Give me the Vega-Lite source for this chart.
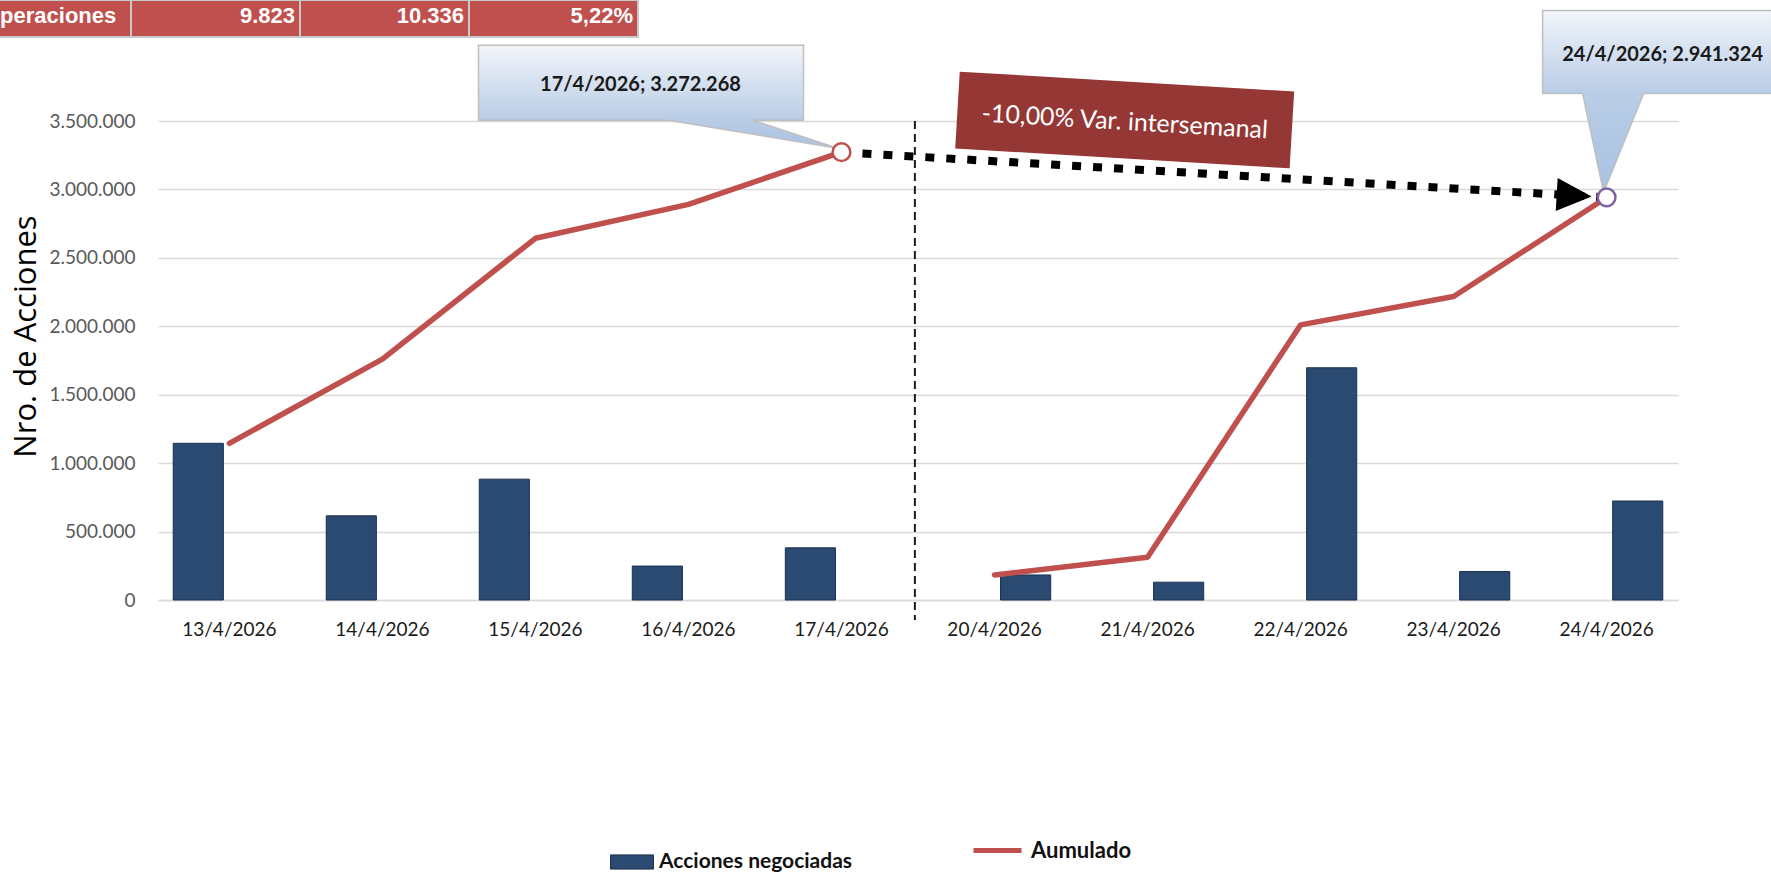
{
  "$schema": "https://vega.github.io/schema/vega-lite/v6.json",
  "width": 1520,
  "height": 479,
  "autosize": {"type": "none"},
  "padding": {"left": 158, "top": 121, "right": 93, "bottom": 273},
  "background": "#ffffff",
  "config": {"view": {"stroke": null}},
  "datasets": {
    "acciones": [
      {"fecha": "13/4/2026", "semana": "S1", "acciones": 1145000, "acumulado": 1145000},
      {"fecha": "14/4/2026", "semana": "S1", "acciones": 615000, "acumulado": 1760000},
      {"fecha": "15/4/2026", "semana": "S1", "acciones": 883000, "acumulado": 2643000},
      {"fecha": "16/4/2026", "semana": "S1", "acciones": 248000, "acumulado": 2891000},
      {"fecha": "17/4/2026", "semana": "S1", "acciones": 381268, "acumulado": 3272268},
      {"fecha": "20/4/2026", "semana": "S2", "acciones": 183000, "acumulado": 183000},
      {"fecha": "21/4/2026", "semana": "S2", "acciones": 130000, "acumulado": 313000},
      {"fecha": "22/4/2026", "semana": "S2", "acciones": 1697000, "acumulado": 2010000},
      {"fecha": "23/4/2026", "semana": "S2", "acciones": 208000, "acumulado": 2218000},
      {"fecha": "24/4/2026", "semana": "S2", "acciones": 723324, "acumulado": 2941324}
    ],
    "puntos": [
      {"fecha": "17/4/2026", "valor": 3272268, "etiqueta": "17/4/2026; 3.272.268"},
      {"fecha": "24/4/2026", "valor": 2941324, "etiqueta": "24/4/2026; 2.941.324"}
    ],
    "variacion": [
      {"desde": "17/4/2026", "valor_desde": 3272268, "hasta": "24/4/2026", "valor_hasta": 2941324, "texto": "-10,00% Var. intersemanal"}
    ],
    "tabla": [
      {"fila": "Operaciones", "celda": "Operaciones"},
      {"fila": "Operaciones", "celda": "9.823"},
      {"fila": "Operaciones", "celda": "10.336"},
      {"fila": "Operaciones", "celda": "5,22%"}
    ]
  },
  "layer": [
    {
      "layer": [
        {
          "data": {"name": "acciones"},
          "mark": {"type": "bar", "stroke": "#1b3150", "strokeWidth": 1},
          "encoding": {
            "x": {
              "field": "fecha", "type": "nominal", "title": null,
              "scale": {"type": "band", "paddingInner": 0.187, "paddingOuter": 0.06},
              "axis": {"labelAngle": 0, "ticks": false, "domain": true, "domainColor": "#d9d9d9", "domainWidth": 1.5, "labelPadding": 20, "labelFont": "Lato", "labelFontSize": 19, "labelColor": "#1a1a1a", "grid": false}
            },
            "xOffset": {"field": "semana", "type": "nominal", "scale": {"paddingInner": 0.194, "paddingOuter": 0.097}},
            "y": {
              "field": "acciones", "type": "quantitative", "title": "Nro. de Acciones",
              "scale": {"domain": [0, 3500000], "nice": false},
              "axis": {"values": [0, 500000, 1000000, 1500000, 2000000, 2500000, 3000000, 3500000], "labelExpr": "replace(format(datum.value, ','), /,/g, '.')", "grid": true, "gridColor": "#d9d9d9", "gridWidth": 1.5, "domain": false, "ticks": false, "labelPadding": 23, "labelFont": "Lato", "labelFontSize": 19, "labelColor": "#595959", "titleFont": "Open Sans", "titleFontSize": 31, "titleFontWeight": "normal", "titleColor": "#000000", "titleX": -123, "titleY": 215, "titleBaseline": "alphabetic", "titleAngle": 270, "titleAlign": "center"}
            },
            "fill": {
              "datum": "Acciones negociadas", "type": "nominal",
              "scale": {"range": ["#2b4a71"]},
              "legend": {"orient": "none", "legendX": 452, "legendY": 719, "title": null, "padding": 0, "labelLimit": 0, "symbolType": "M-1,-0.33L1,-0.33L1,0.33L-1,0.33Z", "symbolSize": 1849, "symbolStrokeColor": "#1b3150", "symbolStrokeWidth": 1, "labelFont": "Lato", "labelFontSize": 21, "labelFontWeight": "bold", "labelColor": "#111111", "labelOffset": 5}
            }
          }
        },
        {
          "data": {"values": [{}]},
          "mark": {"type": "rule", "stroke": "#1a1a1a", "strokeWidth": 2, "strokeDash": [8, 5]},
          "encoding": {
            "x": {"datum": "17/4/2026", "type": "nominal", "bandPosition": 1.09, "title": null},
            "y": {"datum": 3500000, "type": "quantitative", "title": "Nro. de Acciones"},
            "y2": {"datum": -146000}
          }
        },
        {
          "data": {"name": "acciones"},
          "mark": {"type": "line", "strokeWidth": 5.5, "strokeJoin": "round", "strokeCap": "round"},
          "encoding": {
            "x": {"field": "fecha", "type": "nominal", "title": null},
            "y": {"field": "acumulado", "type": "quantitative", "title": "Nro. de Acciones"},
            "detail": {"field": "semana"},
            "stroke": {
              "datum": "Aumulado", "type": "nominal",
              "scale": {"range": ["#c0504d"]},
              "legend": {"orient": "none", "legendX": 813, "legendY": 703, "title": null, "padding": 0, "labelLimit": 0, "symbolType": "stroke", "symbolSize": 2304, "symbolStrokeWidth": 5, "labelFont": "Lato", "labelFontSize": 22, "labelFontWeight": "bold", "labelColor": "#111111", "labelOffset": 7}
            }
          }
        },
        {
          "data": {"name": "variacion"},
          "mark": {"type": "rule", "stroke": "#000000", "strokeWidth": 8, "strokeDash": [9, 12], "strokeCap": "butt"},
          "encoding": {
            "x": {"field": "desde", "type": "nominal", "title": null},
            "x2": {"field": "hasta"},
            "y": {"field": "valor_desde", "type": "quantitative", "title": "Nro. de Acciones"},
            "y2": {"field": "valor_hasta"}
          }
        },
        {
          "data": {"name": "variacion"},
          "mark": {"type": "point", "shape": "M-0.15,0L-0.50,-0.165L-0.50,0.165Z", "size": 40000, "angle": 3.4, "filled": true, "fill": "#000000", "strokeWidth": 0, "opacity": 1},
          "encoding": {
            "x": {"field": "hasta", "type": "nominal", "title": null},
            "y": {"field": "valor_hasta", "type": "quantitative", "title": "Nro. de Acciones"}
          }
        },
        {
          "data": {"name": "puntos"},
          "transform": [{"filter": "datum.fecha === '17/4/2026'"}],
          "mark": {"type": "point", "shape": "M-3.63,-1.07L-0.38,-1.07L-0.38,-0.32L-0.89,-0.32L-0.04,-0.04L-1.73,-0.32L-3.63,-0.32Z", "size": 40000, "filled": true, "opacity": 1, "stroke": "#bfbfbf", "strokeWidth": 1.5,
            "fill": {"gradient": "linear", "x1": 0, "y1": 0, "x2": 0, "y2": 1, "stops": [{"offset": 0, "color": "#f2f5fa"}, {"offset": 0.72, "color": "#b9cde6"}, {"offset": 1, "color": "#a9c2e2"}]}},
          "encoding": {
            "x": {"field": "fecha", "type": "nominal", "title": null},
            "y": {"field": "valor", "type": "quantitative", "title": "Nro. de Acciones"}
          }
        },
        {
          "data": {"name": "puntos"},
          "transform": [{"filter": "datum.fecha === '24/4/2026'"}],
          "mark": {"type": "point", "shape": "M-0.64,-1.87L1.84,-1.87L1.84,-1.04L0.37,-1.04L-0.03,-0.05L-0.24,-1.04L-0.64,-1.04Z", "size": 40000, "filled": true, "opacity": 1, "stroke": "#bfbfbf", "strokeWidth": 1.5,
            "fill": {"gradient": "linear", "x1": 0, "y1": 0, "x2": 0, "y2": 1, "stops": [{"offset": 0, "color": "#f2f5fa"}, {"offset": 0.45, "color": "#b9cde6"}, {"offset": 1, "color": "#a9c2e2"}]}},
          "encoding": {
            "x": {"field": "fecha", "type": "nominal", "title": null},
            "y": {"field": "valor", "type": "quantitative", "title": "Nro. de Acciones"}
          }
        },
        {
          "data": {"name": "puntos"},
          "transform": [{"filter": "datum.fecha === '17/4/2026'"}],
          "mark": {"type": "text", "font": "Lato", "fontSize": 20, "fontWeight": "bold", "color": "#1a1a1a", "dx": -201, "dy": -67, "align": "center", "baseline": "middle"},
          "encoding": {
            "x": {"field": "fecha", "type": "nominal", "title": null},
            "y": {"field": "valor", "type": "quantitative", "title": "Nro. de Acciones"},
            "text": {"field": "etiqueta"}
          }
        },
        {
          "data": {"name": "puntos"},
          "transform": [{"filter": "datum.fecha === '24/4/2026'"}],
          "mark": {"type": "text", "font": "Lato", "fontSize": 20, "fontWeight": "bold", "color": "#1a1a1a", "dx": 56, "dy": -142, "align": "center", "baseline": "middle"},
          "encoding": {
            "x": {"field": "fecha", "type": "nominal", "title": null},
            "y": {"field": "valor", "type": "quantitative", "title": "Nro. de Acciones"},
            "text": {"field": "etiqueta"}
          }
        },
        {
          "data": {"name": "puntos"},
          "mark": {"type": "point", "shape": "circle", "size": 314, "filled": true, "fill": "#ffffff", "strokeWidth": 2.5, "opacity": 1},
          "encoding": {
            "x": {"field": "fecha", "type": "nominal", "title": null},
            "y": {"field": "valor", "type": "quantitative", "title": "Nro. de Acciones"},
            "stroke": {"condition": {"test": "datum.fecha === '17/4/2026'", "value": "#c0504d"}, "value": "#7f63a1"}
          }
        },
        {
          "data": {"name": "variacion"},
          "mark": {"type": "point", "shape": "M1.133,-0.874L4.483,-0.874L4.483,-0.104L1.133,-0.104Z", "size": 40000, "angle": 3.4, "filled": true, "fill": "#953735", "strokeWidth": 0, "opacity": 1},
          "encoding": {
            "x": {"field": "desde", "type": "nominal", "title": null},
            "y": {"field": "valor_desde", "type": "quantitative", "title": "Nro. de Acciones"}
          }
        },
        {
          "data": {"name": "variacion"},
          "mark": {"type": "text", "angle": 3.4, "dx": 281, "dy": -47, "font": "Lato", "fontSize": 25, "color": "#ffffff", "align": "center", "baseline": "middle"},
          "encoding": {
            "x": {"field": "desde", "type": "nominal", "title": null},
            "y": {"field": "valor_desde", "type": "quantitative", "title": "Nro. de Acciones"},
            "text": {"field": "texto"}
          }
        }
      ]
    },
    {
      "data": {"name": "tabla"},
      "encoding": {
        "x": {"field": "celda", "type": "nominal", "sort": null, "axis": null, "scale": {"type": "band", "domain": ["Operaciones", "9.823", "10.336", "5,22%"], "range": [-196, 480], "paddingInner": 0, "paddingOuter": 0}},
        "y": {"field": "fila", "type": "nominal", "axis": null, "scale": {"type": "band", "range": [-121, -84], "paddingInner": 0, "paddingOuter": 0}}
      },
      "layer": [
        {"mark": {"type": "rect", "fill": "#c0504d", "stroke": "#c8c8c8", "strokeWidth": 2}},
        {
          "transform": [{"filter": "datum.celda === 'Operaciones'"}],
          "mark": {"type": "text", "align": "left", "baseline": "middle", "dx": 21, "dy": -3, "font": "Liberation Sans", "fontSize": 22, "fontWeight": "bold", "color": "#ffffff"},
          "encoding": {
            "x": {"field": "celda", "type": "nominal", "sort": null, "axis": null, "bandPosition": 0},
            "text": {"field": "celda"}
          }
        },
        {
          "transform": [{"filter": "datum.celda !== 'Operaciones'"}],
          "mark": {"type": "text", "align": "right", "baseline": "middle", "dx": -5, "dy": -3, "font": "Liberation Sans", "fontSize": 22, "fontWeight": "bold", "color": "#ffffff"},
          "encoding": {
            "x": {"field": "celda", "type": "nominal", "sort": null, "axis": null, "bandPosition": 1},
            "text": {"field": "celda"}
          }
        }
      ]
    }
  ],
  "resolve": {"scale": {"x": "independent", "y": "independent"}}
}
